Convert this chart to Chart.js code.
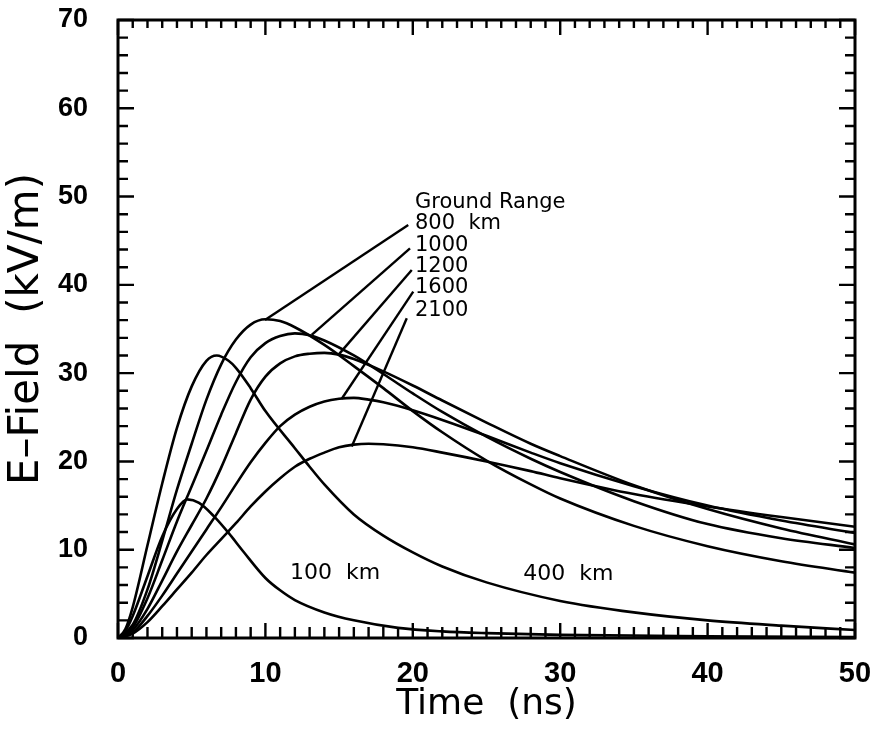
<!DOCTYPE html>
<html>
  <head>
    <title>E-Field vs Time</title>
    <script src="https://cdn.jsdelivr.net/npm/chart.js"></script>
    <style>
      body { margin: 0; background: #fff; }
    </style>
  </head>
  <body>
    <canvas id="efieldChart" width="875" height="735"></canvas>
    <script>
      // Waveforms, time in ns, field in kV/m
      const t100 = [0, 0.5, 1, 2, 3, 4, 4.7, 5.5, 6.5, 7.5, 8.5, 10, 11, 12, 14, 16, 19, 22, 25, 30, 40, 50];
      const e100 = [0, 0.8, 2.5, 7, 11.5, 14.6, 15.7, 15.3, 13.8, 11.9, 9.8, 6.8, 5.4, 4.3, 2.9, 2.0, 1.15, 0.75, 0.55, 0.35, 0.2, 0.12];

      const t400 = [0, 0.5, 1, 2, 3, 4, 5, 6, 6.7, 7.5, 8, 9, 10, 12, 13, 14, 16, 18, 20, 22, 25, 30, 35, 40, 45, 50];
      const e400 = [0, 1, 3.5, 10.5, 17.5, 23.8, 28.5, 31.4, 32, 31.4, 30.6, 28.3, 25.7, 21.5, 19.4, 17.4, 14.0, 11.6, 9.7, 8.1, 6.3, 4.2, 2.9, 2.0, 1.4, 0.9];

      const t800 = [0, 1, 2, 3, 4, 5, 6, 7, 8, 9, 10, 11, 12, 14, 16, 18, 20, 22, 25, 28, 30, 35, 40, 45, 50];
      const e800 = [0, 1.5, 5.5, 11, 16.8, 22, 27, 31, 33.8, 35.5, 36.1, 35.9, 35.2, 33.2, 30.8, 28.3, 25.7, 23.3, 20.1, 17.4, 15.8, 12.7, 10.4, 8.7, 7.4];

      const t1000 = [0, 1, 2, 3, 4, 5, 6, 7, 8, 9, 10, 11, 12, 13, 14, 16, 18, 20, 22, 25, 28, 30, 35, 40, 45, 50];
      const e1000 = [0, 1.2, 4.5, 8.8, 13.2, 17.2, 21.2, 25.3, 29, 31.8, 33.4, 34.2, 34.5, 34.3, 33.7, 32.0, 29.9, 27.7, 25.6, 22.8, 20.3, 18.8, 15.5, 12.9, 11.3, 10.2];

      const t1200 = [0, 1, 2, 3, 4, 5, 6, 7, 8, 9, 10, 11, 12, 13, 14, 15, 16, 18, 20, 22, 25, 28, 30, 35, 40, 45, 50];
      const e1200 = [0, 0.9, 3.3, 6.5, 9.8, 12.8, 15.8, 19.3, 23.2, 27.0, 29.6, 31.1, 31.9, 32.2, 32.3, 32.1, 31.6, 30.2, 28.6, 26.9, 24.4, 22.0, 20.6, 17.3, 14.6, 12.4, 10.6];

      const t1600 = [0, 1, 2, 3, 4, 5, 6, 7, 8, 9, 10, 11, 12, 13, 14, 15, 16, 17, 18, 20, 22, 25, 28, 30, 35, 40, 45, 50];
      const e1600 = [0, 0.6, 2.5, 4.8, 7.3, 9.8, 12.3, 14.8, 17.4, 19.9, 22.1, 24, 25.3, 26.2, 26.8, 27.1, 27.2, 27.0, 26.7, 25.8, 24.7, 22.9, 21.0, 19.8, 17.2, 15.0, 13.3, 11.9];

      const t2100 = [0, 1, 2, 3, 4, 5, 6, 7, 8, 9, 10, 11, 12, 13, 14, 15, 16, 17, 18, 20, 22, 25, 28, 30, 35, 40, 45, 50];
      const e2100 = [0, 0.5, 1.8, 3.6, 5.5, 7.4, 9.4, 11.2, 13.0, 14.9, 16.6, 18.1, 19.4, 20.3, 21.0, 21.6, 21.9, 22.0, 21.95, 21.6, 21.0, 20.0, 18.9, 18.1, 16.3, 14.9, 13.7, 12.6];

      // Ground range legend text and leader lines (data units)
      const legendTitle = "Ground Range";
      const rangeLabels = ["800  km", "1000", "1200", "1600", "2100"];
      const rangeLabelE = [46.95, 44.5, 42.1, 39.65, 37.05];
      const rangeLabelT = 20.15;
      const leaderFrom = [[19.69, 46.78], [19.81, 44.14], [19.93, 41.69], [20.03, 39.23], [19.59, 36.22]];
      const leaderTo = [[9.97, 36.03], [13.14, 34.33], [14.95, 32.07], [15.18, 27.1], [15.86, 21.7]];

      const curveLabels = ["100  km", "400  km"];
      const curveLabelT = [11.67, 27.5];
      const curveLabelE = [7.3, 7.2];

      const toPoints = (ts, es) => ts.map((t, i) => ({ x: t, y: es[i] }));

      const curve = (ts, es) => ({
        data: toPoints(ts, es),
        borderColor: "#000",
        borderWidth: 2.6,
        pointRadius: 0,
        fill: false,
        cubicInterpolationMode: "monotone",
      });

      const leader = (i) => ({
        data: [
          { x: leaderFrom[i][0], y: leaderFrom[i][1] },
          { x: leaderTo[i][0], y: leaderTo[i][1] },
        ],
        borderColor: "#000",
        borderWidth: 2.4,
        pointRadius: 0,
        fill: false,
      });

      const datasets = [
        curve(t100, e100),
        curve(t400, e400),
        curve(t800, e800),
        curve(t1000, e1000),
        curve(t1200, e1200),
        curve(t1600, e1600),
        curve(t2100, e2100),
        ...leaderFrom.map((_, i) => leader(i)),
      ];

      // Box frame with inward ticks on all four sides, plus the text labels
      const framePlugin = {
        id: "frame",
        afterDatasetsDraw(chart) {
          const { ctx, chartArea: a, scales } = chart;
          const x = scales.x;
          const y = scales.y;
          ctx.save();
          ctx.strokeStyle = "#000";
          ctx.lineWidth = 3;
          ctx.strokeRect(a.left, a.top, a.right - a.left, a.bottom - a.top);

          ctx.lineWidth = 2.4;
          ctx.beginPath();
          for (let v = 0; v <= 50; v += 1) {
            const px = x.getPixelForValue(v);
            const bottomLen = v % 10 === 0 ? 15 : 11;
            const topLen = v % 10 === 0 ? 15 : 8;
            ctx.moveTo(px, a.bottom);
            ctx.lineTo(px, a.bottom - bottomLen);
            ctx.moveTo(px, a.top);
            ctx.lineTo(px, a.top + topLen);
          }
          for (let v = 0; v <= 70; v += 2) {
            const py = y.getPixelForValue(v);
            const len = v % 10 === 0 ? 16 : 10;
            ctx.moveTo(a.left, py);
            ctx.lineTo(a.left + len, py);
            ctx.moveTo(a.right, py);
            ctx.lineTo(a.right - len, py);
          }
          ctx.stroke();

          ctx.fillStyle = "#000";
          ctx.textBaseline = "middle";
          ctx.textAlign = "left";
          ctx.font = "21px 'DejaVu Sans'";
          ctx.fillText(legendTitle, x.getPixelForValue(rangeLabelT), y.getPixelForValue(49.3));
          rangeLabels.forEach((txt, i) => {
            ctx.fillText(txt, x.getPixelForValue(rangeLabelT), y.getPixelForValue(rangeLabelE[i]));
          });
          ctx.font = "22px 'DejaVu Sans'";
          curveLabels.forEach((txt, i) => {
            ctx.fillText(txt, x.getPixelForValue(curveLabelT[i]), y.getPixelForValue(curveLabelE[i]));
          });
          ctx.restore();
        },
      };

      const ctx = document.getElementById("efieldChart").getContext("2d");

      new Chart(ctx, {
        type: "line",
        data: { datasets: datasets },
        plugins: [framePlugin],
        options: {
          responsive: false,
          animation: false,
          layout: {
            padding: { top: 20, right: 20, bottom: 0, left: 0 },
          },
          plugins: {
            legend: { display: false },
            tooltip: { enabled: false },
          },
          scales: {
            x: {
              type: "linear",
              min: 0,
              max: 50,
              grid: { display: false, drawTicks: false },
              border: { display: false },
              ticks: {
                stepSize: 10,
                maxRotation: 0,
                padding: 19,
                color: "#000",
                font: { family: "Liberation Sans", weight: "bold", size: 29 },
              },
              title: {
                display: true,
                text: "Time  (ns)",
                color: "#000",
                font: { family: "DejaVu Sans", size: 36 },
                padding: { top: 0, bottom: 9 },
              },
              afterFit: (scale) => {
                scale.height = 97;
                scale.paddingLeft = 0;
                scale.paddingRight = 0;
              },
            },
            y: {
              type: "linear",
              min: 0,
              max: 70,
              grid: { display: false, drawTicks: false },
              border: { display: false },
              ticks: {
                stepSize: 10,
                padding: 30,
                color: "#000",
                font: { family: "Liberation Sans", weight: "bold", size: 27 },
              },
              title: {
                display: true,
                text: "E\u2013Field  (kV/m)",
                color: "#000",
                font: { family: "DejaVu Sans", size: 42 },
                padding: { top: 2, bottom: 0 },
              },
              afterFit: (scale) => {
                scale.width = 118;
                scale.paddingTop = 0;
                scale.paddingBottom = 0;
              },
            },
          },
        },
      });
    </script>
  </body>
</html>
